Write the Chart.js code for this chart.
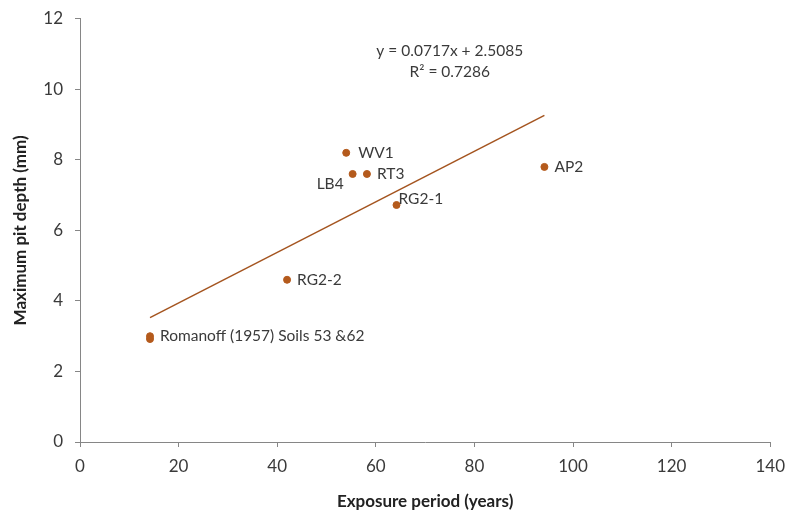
<!DOCTYPE html>
<html>
<head>
<meta charset="utf-8">
<script src="https://cdn.jsdelivr.net/npm/chart.js@4/dist/chart.umd.min.js"></script>
<style>
  html, body { margin: 0; padding: 0; background: #fff; }
  #wrap { width: 794px; height: 516px; }
</style>
</head>
<body>
<div id="wrap"><canvas id="pit-chart" width="794" height="516"></canvas></div>
<script>
// data
const siteNames = ["Romanoff (1957) Soils 53 &62", "Romanoff (1957) Soils 53 &62", "RG2-2", "WV1", "LB4", "RT3", "RG2-1", "AP2"];
const exposureYears = [14.2, 14.2, 42, 54, 55.3, 58.2, 64.2, 94.2];
const pitDepthMm = [3.0, 2.92, 4.6, 8.2, 7.6, 7.6, 6.72, 7.8];
const xTicks = [0, 20, 40, 60, 80, 100, 120, 140];
const yTicks = [0, 2, 4, 6, 8, 10, 12];
const slope = 0.0717;
const intercept = 2.5085;
const equationLines = ["y = 0.0717x + 2.5085", "R² = 0.7286"];

// where each label sits relative to its point (pixels)
const labelSpots = {
    "Romanoff (1957) Soils 53 &62": [10, 0, "left"],
    "RG2-2": [10, 0, "left"],
    "WV1": [12, 0, "left"],
    "LB4": [-9, 10, "right"],
    "RT3": [10, 0, "left"],
    "RG2-1": [2, -6, "left"],
    "AP2": [10, 0, "left"],
};

const points = exposureYears.map((x, i) => ({ x: x, y: pitDepthMm[i] }));
const xMin = Math.min(...exposureYears);
const xMax = Math.max(...exposureYears);
const trend = [
    { x: xMin, y: slope * xMin + intercept },
    { x: xMax, y: slope * xMax + intercept },
];

const fontFam = "Lato, 'Open Sans', sans-serif";
const axisGray = "#868686";

const pointLabels = {
    id: "pointLabels",
    afterDatasetsDraw(chart) {
        const ctx = chart.ctx;
        const xs = chart.scales.x;
        const ys = chart.scales.y;
        ctx.save();
        ctx.font = "15.5px " + fontFam;
        ctx.fillStyle = "#3a3a3a";
        ctx.textBaseline = "middle";
        const done = {};
        siteNames.forEach((name, i) => {
            if (done[name]) return;
            done[name] = true;
            const spot = labelSpots[name];
            ctx.textAlign = spot[2];
            ctx.fillText(name, xs.getPixelForValue(exposureYears[i]) + spot[0], ys.getPixelForValue(pitDepthMm[i]) + spot[1]);
        });
        // trendline equation
        ctx.textAlign = "center";
        const ex = xs.getPixelForValue(75);
        ctx.fillText(equationLines[0], ex, ys.getPixelForValue(11.1));
        ctx.fillText(equationLines[1], ex, ys.getPixelForValue(10.48));
        ctx.restore();
    },
};

new Chart(document.getElementById("pit-chart"), {
    type: "scatter",
    data: {
        datasets: [
            {
                label: "trend",
                type: "line",
                data: trend,
                borderColor: "#a4541f",
                borderWidth: 1.5,
                pointRadius: 0,
                fill: false,
            },
            {
                label: "sites",
                data: points,
                backgroundColor: "#b45a1c",
                borderColor: "#b45a1c",
                pointRadius: 3.5,
            },
        ],
    },
    options: {
        responsive: false,
        animation: false,
        layout: { padding: { top: 0, right: 22, left: 0, bottom: 0 } },
        plugins: {
            legend: { display: false },
            tooltip: { enabled: false },
        },
        scales: {
            x: {
                type: "linear",
                min: 0,
                max: 140,
                afterBuildTicks: (s) => { s.ticks = xTicks.map((v) => ({ value: v })); },
                afterFit: (s) => { s.height = 74; },
                grid: { drawOnChartArea: false, drawTicks: true, tickLength: 5, color: axisGray },
                border: { color: axisGray, width: 1 },
                ticks: { color: "#3a3a3a", font: { family: fontFam, size: 17 }, padding: 9 },
                title: { display: true, text: "Exposure period (years)", color: "#222", font: { family: fontFam, size: 17, weight: "bold" }, padding: { top: 0 } },
            },
            y: {
                type: "linear",
                min: 0,
                max: 12,
                afterBuildTicks: (s) => { s.ticks = yTicks.map((v) => ({ value: v })); },
                afterFit: (s) => { s.width = 80; },
                grid: { drawOnChartArea: false, drawTicks: true, tickLength: 5, color: axisGray },
                border: { color: axisGray, width: 1 },
                ticks: { color: "#3a3a3a", font: { family: fontFam, size: 17, lineHeight: 0.8 }, padding: 12 },
                title: { display: true, text: "Maximum pit depth (mm)", color: "#222", font: { family: fontFam, size: 17, weight: "bold" }, padding: { top: 10, bottom: 0 } },
            },
        },
    },
    plugins: [pointLabels],
});
</script>
</body>
</html>
